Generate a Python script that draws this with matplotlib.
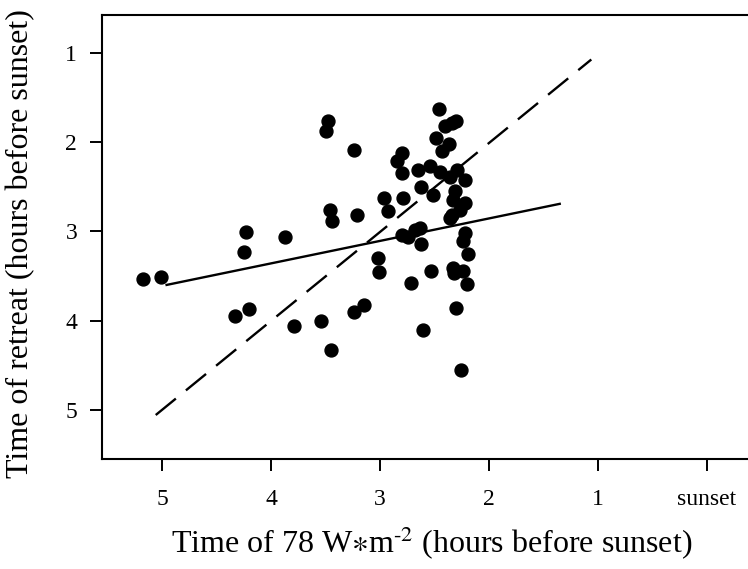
import numpy as np
import matplotlib
matplotlib.use("Agg")
import matplotlib.pyplot as plt

plt.rcParams['font.family'] = ['Liberation Serif', 'DejaVu Serif']
plt.rcParams['mathtext.fontset'] = 'stix'

# hours before sunset: time of 78 W/m2 (x) vs time of retreat (y)
light_time = [5.18, 5.01, 4.23, 4.25, 3.87, 4.33, 4.20, 3.79, 3.48, 3.50,
              3.24, 3.46, 3.44, 3.21, 3.54, 3.45, 3.24, 3.15, 2.96, 2.93,
              3.02, 3.01, 2.72, 2.61, 2.79, 2.80, 2.84, 2.80, 2.65, 2.62,
              2.51, 2.54, 2.45, 2.46, 2.40, 2.34, 2.30, 2.49, 2.37, 2.43,
              2.36, 2.29, 2.22, 2.31, 2.33, 2.22, 2.27, 2.34, 2.36, 2.80,
              2.74, 2.68, 2.63, 2.62, 2.22, 2.24, 2.19, 2.53, 2.33, 2.32,
              2.24, 2.20, 2.30, 2.26]
retreat_time = [3.53, 3.51, 3.01, 3.23, 3.06, 3.95, 3.87, 4.06, 1.76, 1.87,
                2.09, 2.76, 2.88, 2.82, 4.01, 4.33, 3.90, 3.82, 2.62, 2.77,
                3.30, 3.46, 3.58, 4.11, 2.62, 2.12, 2.21, 2.34, 2.31, 2.50,
                2.59, 2.27, 2.33, 1.63, 1.82, 1.78, 1.76, 1.95, 2.02, 2.10,
                2.39, 2.31, 2.42, 2.55, 2.65, 2.68, 2.76, 2.82, 2.85, 3.04,
                3.06, 2.98, 2.96, 3.14, 3.02, 3.11, 3.25, 3.44, 3.41, 3.47,
                3.44, 3.59, 3.86, 4.56]

# regression line and 1:1 line end points
fit_x = [4.96, 1.35]
fit_y = [3.60, 2.69]
one_x = [5.06, 1.06]
one_y = [5.06, 1.07]

tick_vals = [5, 4, 3, 2, 1, 0]
tick_labels = ['5', '4', '3', '2', '1', 'sunset']
ytick_vals = [1, 2, 3, 4, 5]

fig = plt.figure(figsize=(7.48, 5.69), dpi=100)
ax = fig.add_axes([0.1357, 0.1928, 0.8643, 0.7814])

ax.plot(light_time, retreat_time, 'o', color='black', markersize=9.3, zorder=3)
ax.plot(fit_x, fit_y, '-', color='black', lw=1.7)
ax.plot(one_x, one_y, '-', color='black', lw=1.7, dashes=(11, 5.5))

ax.set_xlim(5.558, -0.379)
ax.set_ylim(5.557, 0.567)

ax.set_xticks(tick_vals)
ax.set_xticklabels(tick_labels)
ax.set_yticks(ytick_vals)
ax.tick_params(axis='both', direction='out', length=8.5, width=1.4, labelsize=17)
ax.tick_params(axis='x', pad=13)
ax.tick_params(axis='y', pad=9)
ax.spines['right'].set_visible(False)
for s in ['left', 'top', 'bottom']:
    ax.spines[s].set_linewidth(1.5)

ax.set_xlabel(r'Time of 78 W$\ast$m$^{\text{-2}}$ (hours before sunset)',
              fontsize=23, va='baseline')
ax.xaxis.set_label_coords(0.5107, -0.2107)
ax.set_ylabel('Time of retreat (hours before sunset)', fontsize=23,
              va='baseline', rotation_mode='anchor')
ax.yaxis.set_label_coords(-0.1137, 0.4843)

fig.savefig('out.png', dpi=100)
